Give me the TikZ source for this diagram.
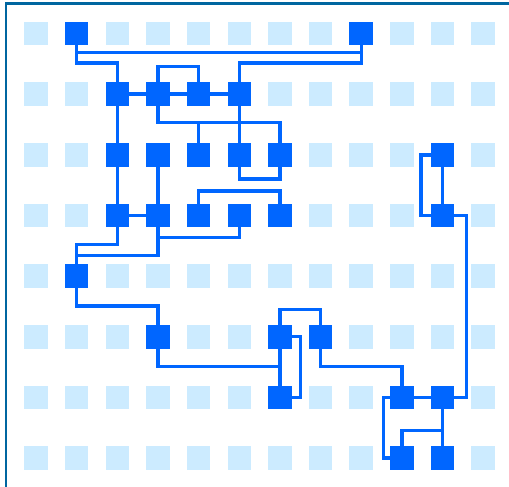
\documentclass[tikz,border=0pt]{standalone}
\usetikzlibrary{calc}
\definecolor{lightsq}{RGB}{204,235,255}
\definecolor{darksq}{RGB}{0,102,255}
\definecolor{framecol}{RGB}{0,102,160}
\tikzset{
  cell/.style={rectangle, minimum width=23.5pt, minimum height=23.5pt, inner sep=0pt, outer sep=0pt},
  lightcell/.style={cell, fill=lightsq},
  darkcell/.style={cell, fill=darksq},
  wire/.style={draw=darksq, line width=3.4pt}
}
\begin{document}
\begin{tikzpicture}[x=1pt,y=-1pt]
\useasboundingbox (0,0) rectangle (509,487);
\fill[white] (0,0) rectangle (509,487);
\draw[framecol, line width=2.2pt] (6,3.5) rectangle (540,520);
% light grid
\foreach \c in {1,...,12}{
  \foreach \r in {1,...,8}{
    \node[lightcell] (g\r-\c) at ({36+(\c-1)*40.65},{33.5+(\r-1)*60.65}) {};
  }
}
% dark cells
\foreach \r/\c in {1/2,1/9,2/3,2/4,2/5,2/6,3/3,3/4,3/5,3/6,3/7,3/11,4/3,4/4,4/5,4/6,4/7,4/11,5/2,6/4,6/7,6/8,7/7,7/10,7/11,8/10,8/11}{
  \node[darkcell] (r\r c\c) at ({36+(\c-1)*40.65},{33.5+(\r-1)*60.65}) {};
}
% connectors
\draw[wire] (r1c2.center) -- ++(0,29.5) -| (r2c3.center);
\draw[wire] (r1c2.center) -- ++(0,19.2) -| (r1c9.center);
\draw[wire] (r1c9.center) -- ++(0,29.5) -| (r2c6.center);
\draw[wire] (r2c3.center) -- (r2c4.center) -- (r2c5.center) -- (r2c6.center);
\draw[wire] (r2c4.center) -- ++(0,-27.5) -| (r2c5.center);
\draw[wire] (r2c4.center) -- ++(0,28.5) -| (r3c7.center);
\draw[wire] (r3c5.center) -- ++(0,-32.1);
\draw[wire] (r2c6.center) -- (r3c6.center) -- ++(0,24.2) -| (r3c7.center);
\draw[wire] (r2c3.center) -- (r3c3.center) -- (r4c3.center);
\draw[wire] (r3c4.center) -- (r4c4.center);
\draw[wire] (r4c3.center) -- (r4c4.center);
\draw[wire] (r4c5.center) -- ++(0,-24.5) -| (r4c7.center);
\draw[wire] (r4c6.center) -- ++(0,22.3) -| (r4c4.center);
\draw[wire] (r4c4.center) -- ++(0,40.3) -| (r5c2.center);
\draw[wire] (r4c3.center) -- ++(0,29.3) -| (r5c2.center);
\draw[wire] (r5c2.center) -- ++(0,29.9) -| (r6c4.center);
\draw[wire] (r6c4.center) -- ++(0,30) -| (r7c7.center);
\draw[wire] (r6c7.center) -- ++(0,-27.4) -| (r6c8.center);
\draw[wire] (r6c7.center) -- (r7c7.center);
\draw[wire] (r6c7.center) -- ++(20.8,0) |- (r7c7.center);
\draw[wire] (r6c8.center) -- ++(0,30) -| (r7c10.center);
\draw[wire] (r7c10.center) -- (r7c11.center);
\draw[wire] (r7c11.center) -- ++(24,0) |- (r4c11.center);
\draw[wire] (r3c11.center) -- (r4c11.center);
\draw[wire] (r3c11.center) -- ++(-21.5,0) |- (r4c11.center);
\draw[wire] (r7c10.center) -- ++(-18.5,0) |- (r8c10.center);
\draw[wire] (r7c11.center) -- (r8c11.center);
\draw[wire] (r8c10.center) -- ++(0,-27.4) -| (r7c11.center);
\end{tikzpicture}
\end{document}
